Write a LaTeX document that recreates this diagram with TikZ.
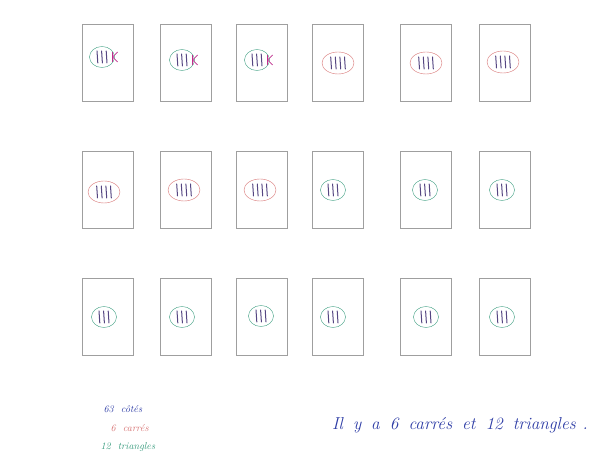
\documentclass[tikz,border=0pt]{standalone}
\usepackage{xcolor}
\usepackage{tikz}
\usetikzlibrary{positioning, shapes.geometric}

\definecolor{ink}{RGB}{85,70,130}
\definecolor{pen}{RGB}{45,60,165}
\definecolor{sqred}{RGB}{215,115,115}
\definecolor{trigreen}{RGB}{55,155,125}
\definecolor{crossmag}{RGB}{190,45,140}

\begin{document}
\begin{tikzpicture}[
    x=1pt, y=-1pt,
    card/.style={draw=gray!75, minimum width=51pt, minimum height=77pt, inner sep=0pt},
    sq/.style={ellipse, draw=sqred, minimum width=32pt, minimum height=22pt, inner sep=0pt},
    tri/.style={ellipse, draw=trigreen, minimum width=25pt, minimum height=21pt, inner sep=0pt},
    tally/.style={draw=ink, line width=1pt, line cap=round},
    note/.style={anchor=west, font=\itshape}
]
    \useasboundingbox (0,0) rectangle (606,470);

    % the 18 cards
    \foreach \x [count=\i] in {108,186,262,338,426,505}
        \foreach \y [count=\j] in {63,190,317}
            \node[card] (c\j\i) at (\x,\y) {};

    % circled tallies: row/col/shape/count/dx/dy
    \foreach \r/\c/\s/\n/\dx/\dy in {
        1/1/tri/3/-6/-6, 1/2/tri/3/-4/-3, 1/3/tri/3/-5/-3,
        1/4/sq/4/0/0, 1/5/sq/4/0/0, 1/6/sq/4/-2/-1,
        2/1/sq/4/-4/2, 2/2/sq/4/-2/0, 2/3/sq/4/-2/0,
        2/4/tri/3/-5/0, 2/5/tri/3/-1/0, 2/6/tri/3/-3/0,
        3/1/tri/3/-4/0, 3/2/tri/3/-4/0, 3/3/tri/3/-1/-1,
        3/4/tri/3/-5/0, 3/5/tri/3/0/0, 3/6/tri/3/-3/0} {
        \node[\s] (e\r\c) at ([xshift=\dx pt, yshift=-\dy pt]c\r\c.center) {};
        \foreach \k in {1,...,\n}
            \draw[tally] ([xshift={(\k-(\n+1)/2)*4.6pt-0.4pt}, yshift=6pt]e\r\c.center) -- ++(0.8,12);
    }

    % crossed out sides
    \foreach \c in {1,2,3} {
        \draw[crossmag, line width=0.7pt] ([xshift=-2pt, yshift=5pt]e1\c.east) -- ++(0,10);
        \draw[crossmag, line width=0.7pt] ([xshift=3pt, yshift=5pt]e1\c.east) -- ++(-5,5) -- ++(5,5);
    }

    % legend
    \node[note, text=pen] (sides) at (100,409) {63 \ côtés};
    \node[note, text=sqred] (squares) at (107,428) {6 \ carrés};
    \node[note, text=trigreen] (tris) at (97,447) {12 \ triangles};

    \node[anchor=west, text=pen, font=\LARGE\itshape, inner sep=0pt] (answer) at (332,425)
        {Il\hspace{10pt}y\hspace{10pt}a\hspace{10pt}6\hspace{10pt}carrés\hspace{10pt}et\hspace{10pt}12\hspace{10pt}triangles\hspace{7pt}.};
\end{tikzpicture}
\end{document}
